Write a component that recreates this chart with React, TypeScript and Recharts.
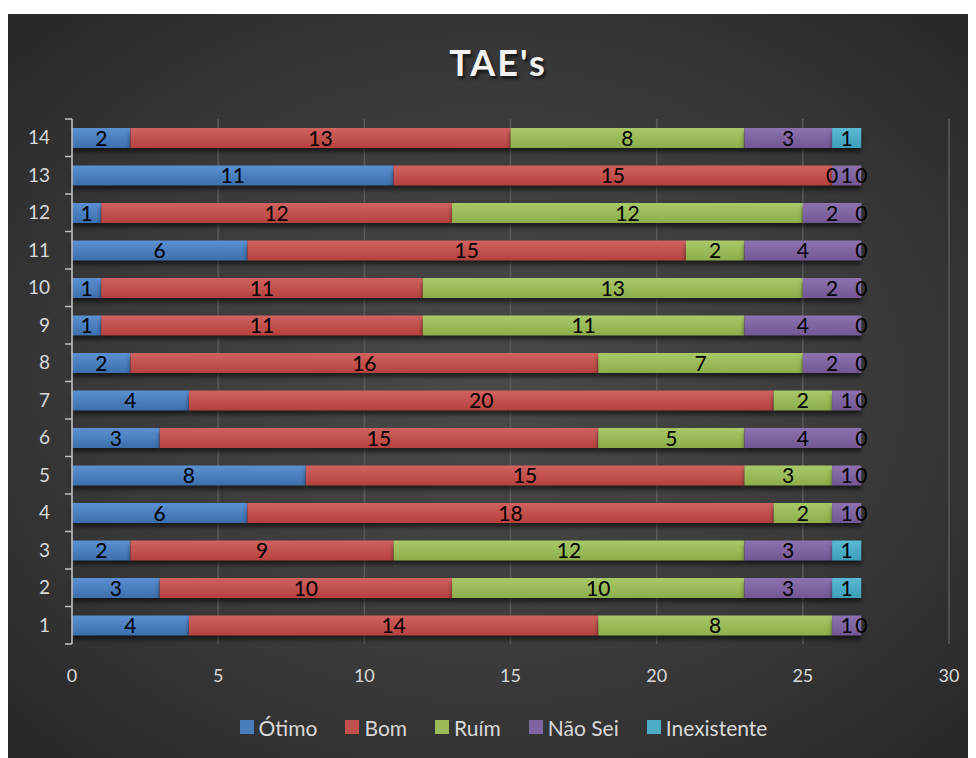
import React from "react";
import { BarChart, Bar, XAxis, YAxis, CartesianGrid, Legend, LabelList } from "recharts";

const categories = ["1", "2", "3", "4", "5", "6", "7", "8", "9", "10", "11", "12", "13", "14"];
const otimo = [4, 3, 2, 6, 8, 3, 4, 2, 1, 1, 6, 1, 11, 2];
const bom = [14, 10, 9, 18, 15, 15, 20, 16, 11, 11, 15, 12, 15, 13];
const ruim = [8, 10, 12, 2, 3, 5, 2, 7, 11, 13, 2, 12, 0, 8];
const naoSei = [1, 3, 3, 1, 1, 4, 1, 2, 4, 2, 4, 2, 1, 3];
const inexistente = [0, 1, 1, 0, 0, 0, 0, 0, 0, 0, 0, 0, 0, 1];
const xTicks = [0, 5, 10, 15, 20, 25, 30];

const series = [
  { key: "otimo", name: "Ótimo", values: otimo, color: "#4a7ebb", top: "#5b90d2", bottom: "#3c6eab" },
  { key: "bom", name: "Bom", values: bom, color: "#c0504d", top: "#d0625f", bottom: "#b5413e" },
  { key: "ruim", name: "Ruím", values: ruim, color: "#9bbb59", top: "#a9c969", bottom: "#8cad4a" },
  { key: "naoSei", name: "Não Sei", values: naoSei, color: "#8064a2", top: "#8d72b0", bottom: "#725794" },
  { key: "inexistente", name: "Inexistente", values: inexistente, color: "#4bacc6", top: "#5abad4", bottom: "#3d9eb8" },
];

const data = categories.map((c, i) => {
  const row: Record<string, string | number> = { name: c };
  series.forEach((s) => (row[s.key] = s.values[i]));
  return row;
});

const W = 968;
const H = 744;
const MARGIN = { top: 105, right: 27, bottom: 48, left: 0 };
const BAND = (H - MARGIN.top - 114) / categories.length;
const FONT = "Lato, 'Open Sans', sans-serif";

// excel-style tick marks sit on band edges, not centres
function YTick(props: any) {
  const { x, y, payload } = props;
  const ax = x + 22;
  return (
    <g>
      <line x1={ax - 7} x2={ax} y1={y - BAND / 2} y2={y - BAND / 2} stroke="#bfbfbf" strokeWidth={1.5} />
      {payload.value === categories[0] && (
        <line x1={ax - 7} x2={ax} y1={y + BAND / 2} y2={y + BAND / 2} stroke="#bfbfbf" strokeWidth={1.5} />
      )}
      <text x={x} y={y} dy="0.35em" textAnchor="end" fill="#d9d9d9" fontSize={19} fontFamily={FONT}>
        {payload.value}
      </text>
    </g>
  );
}

// draw label ourselves so zero-width segments still get their "0"
function SegLabel(props: any) {
  const { x, y, width, height, value } = props;
  if (value === undefined || value === null) return null;
  return (
    <text
      x={x + width / 2}
      y={y + height / 2}
      dy="0.36em"
      textAnchor="middle"
      fill="#000"
      fontSize={21}
      fontFamily={FONT}
    >
      {value}
    </text>
  );
}

function LegendContent() {
  return (
    <div style={{ display: "flex", justifyContent: "center", height: 26, alignItems: "center", paddingLeft: 50 }}>
      {series.map((s, i) => (
        <div key={s.key} style={{ display: "flex", alignItems: "center", marginRight: i < series.length - 1 ? 28 : 0 }}>
          <span style={{ width: 14, height: 14, background: s.color, display: "inline-block", marginRight: 5 }} />
          <span style={{ color: "#d9d9d9", fontSize: 21, fontFamily: FONT }}>{s.name}</span>
        </div>
      ))}
    </div>
  );
}

export default function App() {
  return (
    <div
      style={{
        position: "relative",
        width: W,
        height: H,
        marginTop: 6,
        background: "radial-gradient(ellipse at 50% 50%, #4a4a4a 0%, #3a3a3a 55%, #272727 100%)",
        fontFamily: FONT,
      }}
    >
      <style>{`.recharts-bar-rectangles { filter: drop-shadow(0px 4px 2px rgba(0,0,0,0.55)); }`}</style>
      <div
        style={{
          position: "absolute",
          top: 29,
          left: 0,
          width: W,
          textAlign: "center",
          color: "#f2f2f2",
          fontSize: 36,
          fontWeight: 700,
          letterSpacing: 2,
          lineHeight: "38px",
          textShadow: "2px 3px 3px rgba(0,0,0,0.6)",
          paddingLeft: 12,
          boxSizing: "border-box",
        }}
      >
        TAE's
      </div>
      <BarChart width={W} height={H} data={data} layout="vertical" margin={MARGIN}>
        <defs>
          {series.map((s) => (
            <linearGradient key={s.key} id={`g-${s.key}`} x1="0" y1="0" x2="0" y2="1">
              <stop offset="0%" stopColor={s.top} />
              <stop offset="100%" stopColor={s.bottom} />
            </linearGradient>
          ))}
        </defs>
        <CartesianGrid horizontal={false} stroke="#5a5a5a" strokeWidth={1.5} />
        <XAxis
          type="number"
          domain={[0, 30]}
          ticks={xTicks}
          axisLine={false}
          tickLine={false}
          height={40}
          tickMargin={19}
          tick={{ fill: "#d9d9d9", fontSize: 18, fontFamily: FONT }}
        />
        <YAxis
          type="category"
          dataKey="name"
          reversed
          width={64}
          tickSize={0}
          tickMargin={22}
          tickLine={false}
          axisLine={{ stroke: "#bfbfbf", strokeWidth: 1.5 }}
          tick={<YTick />}
          interval={0}
        />
        <Legend verticalAlign="bottom" content={<LegendContent />} wrapperStyle={{ bottom: 18 }} />
        {series.map((s) => (
          <Bar
            key={s.key}
            dataKey={s.key}
            name={s.name}
            stackId="a"
            barSize={20}
            minPointSize={0.01}
            fill={`url(#g-${s.key})`}
            isAnimationActive={false}
          >
            <LabelList dataKey={s.key} content={<SegLabel />} />
          </Bar>
        ))}
      </BarChart>
    </div>
  );
}
